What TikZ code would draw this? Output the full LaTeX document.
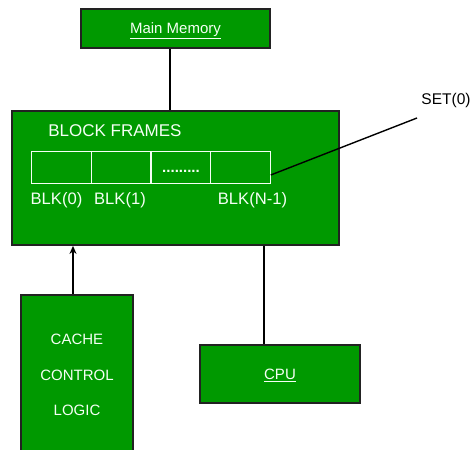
\documentclass[tikz,border=0pt]{standalone}
\usepackage{fontspec}
\setmainfont{Liberation Sans}
\usetikzlibrary{arrows.meta}
\definecolor{boxgreen}{RGB}{0,153,0}
\definecolor{edgegray}{RGB}{34,34,34}
\definecolor{txtwhite}{RGB}{245,255,245}
\tikzset{
  gbox/.style={draw=edgegray, line width=1.8pt, fill=boxgreen, inner sep=0pt},
  cell/.style={draw=txtwhite, line width=1pt, minimum width=59.5pt, minimum height=32pt, inner sep=0pt},
  wtext/.style={text=txtwhite, font=\fontsize{15}{18}\selectfont, inner sep=0pt},
  btext/.style={text=txtwhite, font=\fontsize{16.6}{19}\selectfont, inner sep=0pt},
  conn/.style={draw=black, line width=1.4pt},
}
\begin{document}
\begin{tikzpicture}[x=1pt,y=1pt]
\useasboundingbox (0,0) rectangle (472,-450);
% boxes
\node[gbox, minimum width=189pt, minimum height=39pt, wtext, text depth=0pt] (mm) at (175.5,-28.5) {\underline{Main Memory}};
\node[gbox, minimum width=327pt, minimum height=134pt] (block) at (175.5,-178) {};
\node[gbox, minimum width=112pt, minimum height=160pt, wtext, align=center,
      font=\fontsize{15}{35.5}\selectfont] (cache) at (77,-375) {CACHE\\CONTROL\\LOGIC};
\node[gbox, minimum width=160pt, minimum height=58pt, wtext, text depth=0pt] (cpu) at (280,-374) {\underline{CPU}};
% cells
\node[cell] (c0) at (61.5,-167) {};
\node[cell] (c1) at (121,-167) {};
\node[cell] (c2) at (181,-167) {};
\node[cell] (c3) at (240.5,-167) {};
\node[text=txtwhite, font=\fontsize{15}{18}\selectfont\bfseries, anchor=base, inner sep=0pt] (dots) at (181,-172) {.........};
% texts
\node[btext, font=\fontsize{17}{19}\selectfont] (bf) at (115,-131) {BLOCK FRAMES};
\node[btext] (b0) at (56.5,-200) {BLK(0)};
\node[btext] (b1) at (120,-200) {BLK(1)};
\node[btext] (bn) at (252.5,-200) {BLK(N-1)};
\node[font=\fontsize{15.5}{18}\selectfont, inner sep=0pt] (set) at (446,-100) {SET(0)};
\coordinate (setend) at (417,-118);
\coordinate (c3e) at ([yshift=-8pt]c3.east);
% connectors
\draw[conn] ([xshift=-5.5pt]mm.south) -- ([xshift=-5.5pt]mm.south |- block.north);
\draw[conn] (c3e) -- (setend);
\draw[conn, -{Stealth[length=8pt,width=7pt]}] ([xshift=-4pt]cache.north) -- ([xshift=-4pt]cache.north |- block.south);
\draw[conn] ([xshift=-16pt]cpu.north |- block.south) -- ([xshift=-16pt]cpu.north);
\end{tikzpicture}
\end{document}
